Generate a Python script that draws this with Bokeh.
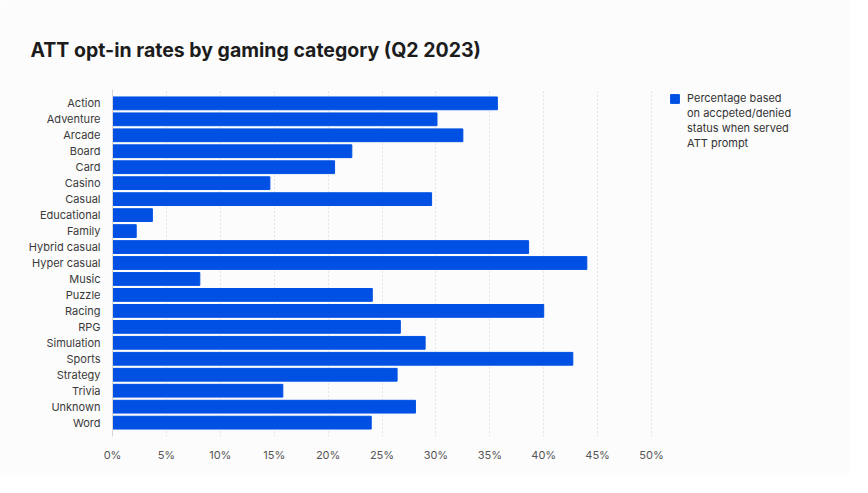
from bokeh.plotting import figure
from bokeh.models import FactorRange, Range1d, NumeralTickFormatter, Legend, LegendItem, Title, FixedTicker
from bokeh.embed import file_html
from bokeh.resources import INLINE

categories = ["Action", "Adventure", "Arcade", "Board", "Card", "Casino", "Casual",
              "Educational", "Family", "Hybrid casual", "Hyper casual", "Music",
              "Puzzle", "Racing", "RPG", "Simulation", "Sports", "Strategy",
              "Trivia", "Unknown", "Word"]
rates = [35.7, 30.1, 32.5, 22.2, 20.6, 14.6, 29.6, 3.7, 2.2, 38.6, 44.0, 8.1,
         24.1, 40.0, 26.7, 29.0, 42.7, 26.4, 15.8, 28.1, 24.0]
rates_frac = [r / 100 for r in rates]
x_ticks = [0, 0.05, 0.10, 0.15, 0.20, 0.25, 0.30, 0.35, 0.40, 0.45, 0.50]
series_label_lines = ["Percentage based", "on accpeted/denied", "status when served", "ATT prompt"]

FONT = "Inter"
BAR = "#0050e4"

y_range = FactorRange(factors=list(reversed(categories)), range_padding=0.035)

# frame extends to the right edge so the legend can live inside it; axis ticks stop at 50%
p = figure(width=850, height=475, y_range=y_range, x_range=Range1d(0, 0.6818),
           output_backend="svg", toolbar_location=None,
           min_border_left=112, min_border_right=3, min_border_bottom=39,
           min_border_top=89)

r = p.hbar(y=categories, right=rates_frac, left=0, height=0.8, color=BAR,
           line_color=BAR)
# transparent helper renderer used only for the continuation lines of the legend label
blank = p.hbar(y=[], right=[], left=[], height=0.8, fill_alpha=0, line_alpha=0)

t = Title(text="ATT opt-in rates by gaming category (Q2 2023)", align="left",
          text_font=FONT, text_font_size="19.5px", text_font_style="bold",
          text_color="#1c1c1c", offset=-82, standoff=55)
p.add_layout(t, "above")

p.background_fill_color = "#fcfcfc"
p.border_fill_color = "#fcfcfc"
p.outline_line_color = None

p.xaxis.ticker = FixedTicker(ticks=x_ticks)
p.xaxis.formatter = NumeralTickFormatter(format="0%")
p.xaxis.axis_line_color = None
p.xaxis.major_tick_line_color = None
p.xaxis.minor_tick_line_color = None
p.xaxis.major_label_standoff = 5
p.xaxis.major_label_text_font = FONT
p.xaxis.major_label_text_font_size = "11px"
p.xaxis.major_label_text_color = "#555555"

p.yaxis.axis_line_color = "#d6d6d6"
p.yaxis.major_tick_line_color = None
p.yaxis.minor_tick_line_color = None
p.yaxis.major_label_standoff = 6
p.yaxis.major_label_text_font = FONT
p.yaxis.major_label_text_font_size = "11px"
p.yaxis.major_label_text_color = "#3a3a3a"

p.xgrid.grid_line_color = "#cfcfcf"
p.xgrid.grid_line_dash = "1 3"
p.xgrid.grid_line_width = 1
p.ygrid.grid_line_color = None

items = [LegendItem(label=series_label_lines[0], renderers=[r])]
for line in series_label_lines[1:]:
    items.append(LegendItem(label=line, renderers=[blank]))

legend = Legend(items=items, location=(557, 286), background_fill_alpha=0,
                border_line_color=None, label_text_font=FONT,
                label_text_font_size="11px", label_text_color="#333333",
                glyph_width=11, glyph_height=11, label_standoff=7,
                label_height=13, spacing=1, margin=0, padding=0)
p.add_layout(legend, "center")

open("out.html", "w").write(file_html(p, INLINE))
